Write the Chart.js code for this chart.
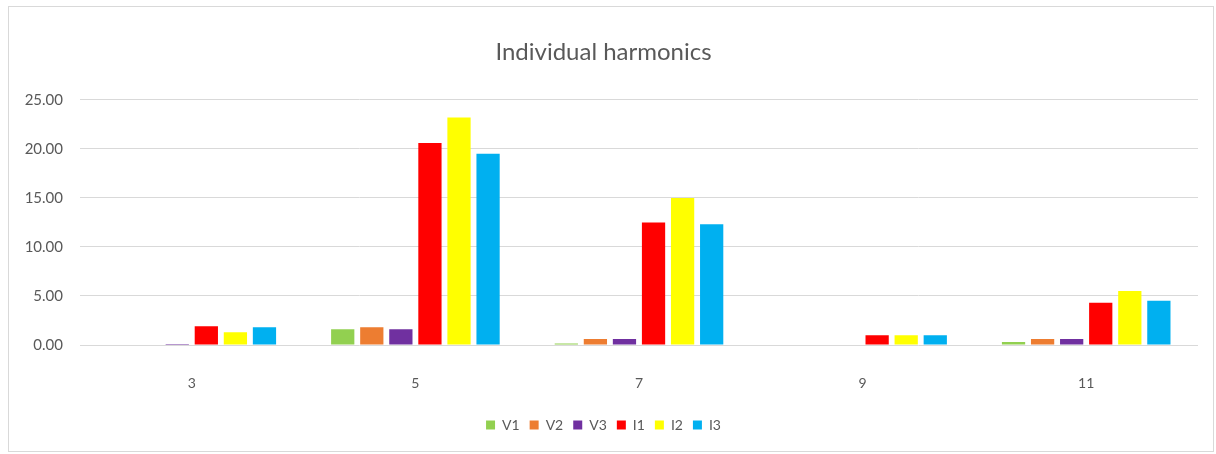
<!DOCTYPE html>
<html>
<head>
<meta charset="utf-8">
<script src="https://cdn.jsdelivr.net/npm/chart.js@4.4.0/dist/chart.umd.min.js"></script>
<style>
  body { margin: 0; background: #fff; }
  #box {
    position: absolute; left: 8px; top: 6px;
    width: 1204px; height: 444px;
    border: 1px solid #d9d9d9;
  }
</style>
</head>
<body>
<div id="box"><canvas id="chart" width="1204" height="444"></canvas></div>
<script>
const harmonics = ['3', '5', '7', '9', '11'];

const v1 = [0, 1.6, 0.15, 0, 0.3];
const v2 = [0, 1.8, 0.6, 0, 0.6];
const v3 = [0.1, 1.6, 0.6, 0, 0.6];
const i1 = [1.9, 20.6, 12.5, 1.0, 4.3];
const i2 = [1.3, 23.2, 15.0, 1.0, 5.5];
const i3 = [1.8, 19.5, 12.3, 1.0, 4.5];

const seriesNames = ['V1', 'V2', 'V3', 'I1', 'I2', 'I3'];
const seriesData = [v1, v2, v3, i1, i2, i3];
const seriesColors = ['#92d050', '#ed7d31', '#7030a0', '#ff0000', '#ffff00', '#00b0f0'];

const textGrey = '#595959';
const font = 'Lato, "Open Sans", sans-serif';

const ctx = document.getElementById('chart').getContext('2d');
const myChart = new Chart(ctx, {
  type: 'bar',
  data: {
    labels: harmonics,
    datasets: seriesNames.map((name, k) => ({
      label: name,
      data: seriesData[k],
      backgroundColor: seriesColors[k],
      borderWidth: 0,
      categoryPercentage: 0.78,
      barPercentage: 0.8
    }))
  },
  options: {
    responsive: false,
    animation: false,
    layout: { padding: { left: 0, right: 15, top: 0, bottom: 9 } },
    plugins: {
      title: {
        display: true,
        text: 'Individual harmonics',
        color: textGrey,
        font: { family: font, size: 24, weight: 'normal' },
        padding: { top: 31, bottom: 33 }
      },
      legend: {
        position: 'bottom',
        labels: {
          color: textGrey,
          font: { family: font, size: 14 },
          boxWidth: 9,
          boxHeight: 9,
          padding: 10
        }
      },
      tooltip: { enabled: false }
    },
    scales: {
      x: {
        grid: { display: false },
        border: { display: false },
        ticks: { color: textGrey, font: { family: font, size: 14 }, padding: 22 },
        afterFit: (scale) => { scale.height = 63; }
      },
      y: {
        min: 0,
        max: 25,
        grid: { color: '#d9d9d9', drawTicks: false },
        border: { display: false },
        ticks: {
          stepSize: 5,
          padding: 17,
          color: textGrey,
          font: { family: font, size: 15 },
          callback: (v) => v.toFixed(2)
        },
        afterFit: (scale) => { scale.width = 71; }
      }
    }
  }
});
</script>
</body>
</html>
